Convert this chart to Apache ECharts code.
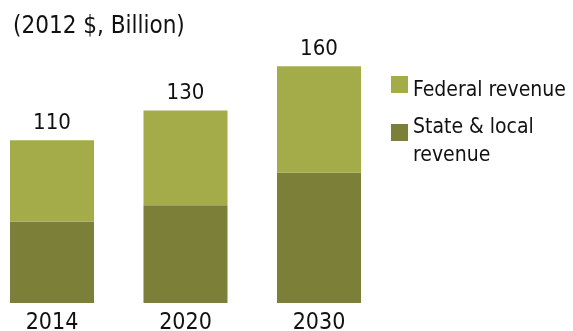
<!DOCTYPE html>
<html>
<head>
<meta charset="utf-8">
<script src="https://cdn.jsdelivr.net/npm/echarts@6/dist/echarts.min.js"></script>
<style>
  html, body { margin: 0; padding: 0; background: #fff; }
  #chart { width: 573px; height: 331px; }
</style>
</head>
<body>
<div id="chart"></div>
<script>
// Revenue by year, 2012 dollars (billions)
const years = ['2014', '2020', '2030'];
const stateLocal = [55, 66, 88];
const federal = [55, 64, 72];

const FONT = '"DejaVu Sans Condensed", "DejaVu Sans", sans-serif';
const FED_COLOR = '#A4AC4A';
const STATE_COLOR = '#7B7F37';

const legendText = { fontFamily: FONT, fontSize: 21, color: '#111' };

const chart = echarts.init(document.getElementById('chart'), null, { renderer: 'canvas' });

chart.setOption({
  animation: false,
  backgroundColor: '#fff',
  title: {
    text: '(2012 $, Billion)',
    left: 8,
    top: 10,
    textStyle: { fontFamily: FONT, fontSize: 24, fontWeight: 'normal', color: '#111' }
  },
  legend: {
    orient: 'vertical',
    left: 391,
    top: 68,
    padding: 0,
    itemWidth: 17,
    itemHeight: 17,
    itemGap: -2,
    icon: 'rect',
    data: ['Federal revenue', 'State & local\nrevenue'],
    // glyphs sit a little below the swatch centre
    formatter: (name) => name === 'Federal revenue'
      ? '{f|Federal revenue}'
      : '{s|State & local}\n{s|revenue}',
    textStyle: Object.assign({}, legendText, {
      rich: {
        f: Object.assign({}, legendText, { lineHeight: 20, padding: [12, 0, 0, 0] }),
        s: Object.assign({}, legendText, { lineHeight: 28, padding: [18, 0, 0, 0] })
      }
    })
  },
  grid: { left: 52, right: 254, top: 7, bottom: 28, outerBoundsMode: 'none' },
  xAxis: {
    type: 'category',
    data: years,
    boundaryGap: false,
    axisLine: { show: false },
    axisTick: { show: false },
    axisLabel: { fontFamily: FONT, fontSize: 23, color: '#111', margin: 9 }
  },
  yAxis: {
    type: 'value',
    min: 0,
    max: 200,
    show: false,
    splitLine: { show: false }
  },
  series: [
    {
      name: 'State & local\nrevenue',
      type: 'bar',
      stack: 'rev',
      barWidth: 84,
      clip: false,
      data: stateLocal,
      itemStyle: { color: STATE_COLOR }
    },
    {
      name: 'Federal revenue',
      type: 'bar',
      stack: 'rev',
      barWidth: 84,
      clip: false,
      data: federal,
      itemStyle: { color: FED_COLOR },
      label: {
        show: true,
        position: 'top',
        distance: 6,
        fontFamily: FONT,
        fontSize: 22,
        color: '#111',
        formatter: (p) => String(stateLocal[p.dataIndex] + federal[p.dataIndex])
      }
    }
  ]
});
</script>
</body>
</html>
